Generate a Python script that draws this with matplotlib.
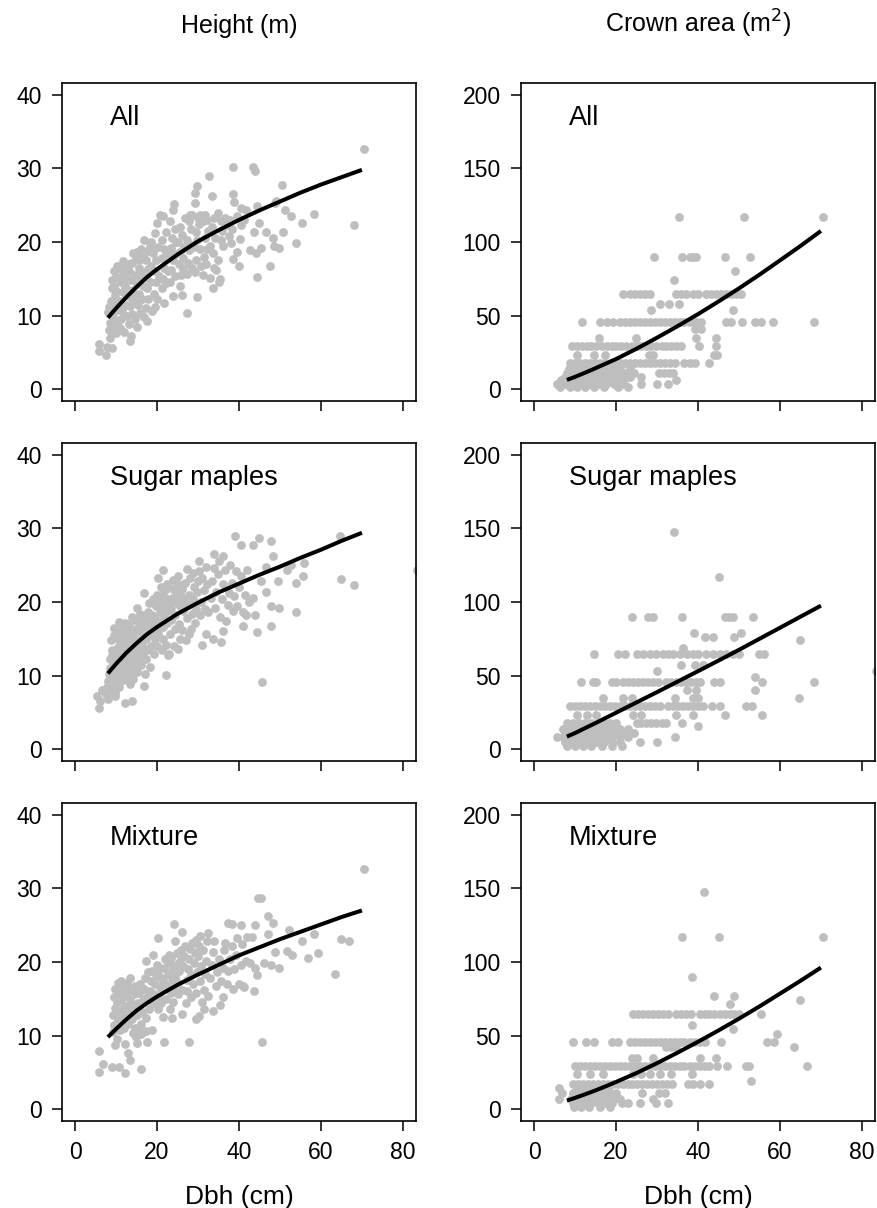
import numpy as np
import matplotlib
matplotlib.use("Agg")
import matplotlib.pyplot as plt

plt.rcParams['font.family'] = ['Liberation Sans', 'DejaVu Sans']

#### data #########################

panel_names = ["All", "Sugar maples", "Mixture"]
col_titles = ["Height (m)", "Crown area (m$^2$)"]
x_ticks = [0, 20, 40, 60, 80]
ht_ticks = [0, 10, 20, 30, 40]
ca_ticks = [0, 50, 100, 150, 200]

# height vs dbh, (dbh, height)
ht_all = [
    (5.8, 6.2), (5.8, 5.2), (7.6, 4.7), (7.9, 5.8), (8.5, 7.0), (8.9, 5.6), (8.2, 8.0), (8.5, 9.0),
    (8.0, 10.5), (8.7, 12.0), (8.9, 13.7), (8.9, 14.9), (8.3, 11.2), (9.3, 8.1), (9.5, 9.5), (9.7, 10.6),
    (9.2, 11.8), (9.8, 12.8), (9.5, 14.0), (10.0, 15.2), (10.2, 16.7), (9.6, 16.0), (10.3, 8.8), (10.4, 11.0),
    (10.1, 13.3), (9.9, 7.6), (11.0, 8.3), (11.2, 9.5), (11.5, 10.6), (11.0, 12.0), (11.6, 13.2), (11.3, 14.5),
    (11.8, 15.5), (11.8, 17.4), (11.2, 16.4), (12.6, 9.9), (12.3, 11.5), (12.5, 12.8), (12.2, 14.0), (12.7, 15.0),
    (12.4, 16.2), (12.8, 17.0), (12.0, 7.8), (13.4, 6.5), (13.6, 7.2), (13.2, 8.8), (13.8, 10.2), (13.5, 11.3),
    (13.3, 12.5), (13.9, 13.5), (13.7, 14.8), (13.2, 16.0), (13.8, 17.2), (14.2, 18.5), (14.5, 9.6), (14.3, 12.0),
    (14.6, 15.5), (14.8, 17.8), (14.4, 13.0), (15.0, 8.5), (15.8, 10.3), (15.3, 11.5), (15.6, 13.0), (15.2, 14.3),
    (15.9, 15.2), (15.5, 16.5), (15.7, 17.6), (15.1, 18.6), (16.2, 19.0), (16.4, 12.3), (16.6, 14.0), (16.2, 16.0),
    (16.9, 20.3), (16.5, 18.0), (16.8, 9.8), (17.5, 9.2), (17.2, 11.0), (17.8, 12.2), (17.6, 13.8), (17.3, 15.2),
    (17.9, 16.4), (17.4, 17.6), (17.8, 18.8), (18.7, 10.6), (18.3, 14.5), (18.6, 16.8), (18.2, 19.5), (18.5, 20.0),
    (19.5, 11.2), (19.2, 13.0), (19.8, 14.6), (19.4, 16.0), (19.7, 17.5), (19.1, 18.5), (19.5, 21.2), (19.9, 22.6),
    (20.3, 19.3), (20.5, 15.4), (20.1, 12.2), (21.8, 11.7), (21.2, 13.8), (21.5, 15.0), (21.8, 16.5), (21.3, 17.8),
    (21.6, 19.0), (21.2, 20.3), (21.5, 23.5), (20.8, 23.7), (22.3, 14.4), (22.5, 18.4), (22.2, 21.3), (22.7, 16.0),
    (24.0, 12.6), (23.2, 14.6), (23.5, 16.2), (23.8, 17.6), (23.3, 19.2), (23.6, 20.6), (23.2, 22.8), (24.1, 25.1),
    (23.9, 24.4), (24.3, 15.4), (24.5, 18.4), (24.4, 21.8), (24.6, 20.0), (26.0, 12.8), (25.5, 14.0), (25.8, 15.5),
    (25.3, 17.0), (25.7, 18.6), (25.2, 20.0), (25.6, 22.1), (26.3, 16.3), (26.5, 19.3), (26.2, 21.0), (26.8, 23.2),
    (26.4, 17.8), (27.4, 10.3), (27.2, 15.7), (27.6, 17.2), (27.8, 18.9), (27.3, 20.3), (28.0, 23.7), (28.3, 21.8),
    (28.6, 16.5), (28.2, 19.6), (27.9, 22.9), (28.5, 23.6), (29.7, 12.5), (29.2, 15.9), (29.5, 17.6), (29.0, 19.3),
    (29.8, 20.3), (29.4, 21.3), (29.2, 25.3), (29.2, 26.6), (29.7, 27.6), (30.5, 23.7), (30.2, 22.5), (30.5, 19.0),
    (30.8, 16.8), (30.0, 23.2), (31.2, 15.5), (31.5, 18.0), (31.8, 20.5), (31.3, 22.8), (32.1, 23.0), (32.5, 21.5),
    (32.3, 19.1), (32.7, 28.9), (32.9, 19.4), (31.6, 23.6), (32.0, 17.0), (33.0, 15.1), (33.7, 13.7), (33.5, 26.2),
    (33.7, 18.5), (34.5, 16.2), (34.9, 17.6), (33.3, 22.0), (34.2, 20.6), (34.9, 23.9), (34.0, 23.2), (33.8, 16.5),
    (35.3, 15.0), (35.7, 20.3), (35.5, 22.8), (36.2, 19.5), (35.9, 21.5), (36.5, 23.3), (35.2, 14.5), (37.8, 23.0),
    (37.5, 20.8), (38.6, 17.7), (38.2, 21.8), (38.6, 26.5), (38.6, 30.2), (38.9, 25.4), (37.2, 22.3), (38.0, 19.8),
    (39.6, 18.7), (40.1, 16.8), (40.2, 20.4), (40.6, 24.6), (39.5, 23.5), (40.4, 22.3), (41.8, 24.4), (41.2, 23.0),
    (42.8, 18.9), (43.5, 30.2), (43.9, 29.6), (43.6, 21.3), (44.1, 18.5), (44.5, 24.9), (44.5, 15.2), (44.9, 22.6),
    (45.4, 19.2), (46.7, 21.3), (47.5, 16.8), (48.2, 20.5), (48.5, 19.5), (48.8, 25.3), (49.1, 25.6), (49.8, 19.2),
    (50.4, 27.7), (50.8, 21.3), (51.3, 24.4), (52.8, 23.5), (54.0, 19.9), (55.4, 22.6), (58.2, 23.8), (68.1, 22.3),
    (70.4, 32.7),
]

ht_sm = [
    (39.0, 29.0), (40.4, 27.7), (43.5, 27.7), (44.9, 28.7), (47.9, 28.3), (64.7, 29.0), (48.3, 26.2), (55.8, 25.3),
    (52.8, 25.0), (46.5, 24.8), (51.6, 24.4), (55.5, 23.6), (65.0, 23.1), (68.1, 22.3), (83.5, 24.4), (54.0, 22.6),
    (49.5, 22.9), (45.3, 22.9), (46.7, 21.3), (43.3, 20.5), (47.9, 19.5), (49.8, 19.2), (53.8, 18.6), (43.9, 18.3),
    (41.8, 18.3), (41.0, 16.8), (47.7, 16.7), (44.5, 15.9), (45.5, 9.2), (35.7, 14.6), (33.7, 15.0), (30.9, 14.1),
    (27.9, 15.6), (22.3, 10.1), (16.8, 8.6), (13.8, 6.5), (12.2, 6.3), (9.7, 7.2), (5.3, 7.2), (5.8, 5.6),
    (6.1, 6.5), (6.5, 8.1), (16.8, 21.2), (20.3, 23.2), (21.5, 24.4), (30.3, 25.6), (33.9, 26.5), (36.1, 26.2),
    (27.2, 24.5), (25.2, 23.5),
    (7.5, 7.5), (7.8, 8.5), (8.0, 9.3), (8.2, 10.2), (8.4, 11.0), (8.6, 12.2), (8.1, 6.8), (8.8, 8.0),
    (8.9, 13.5), (8.7, 14.8), (9.0, 9.5), (9.2, 11.5), (9.3, 10.4), (9.1, 12.8), (9.4, 15.5), (9.5, 16.5),
    (9.6, 8.6), (9.8, 7.6), (10.0, 9.2), (10.1, 10.6), (10.3, 11.8), (10.2, 12.9), (10.5, 13.9), (10.4, 15.0),
    (10.6, 16.2), (10.8, 17.3), (10.7, 8.5), (10.9, 10.0), (11.1, 11.3), (11.2, 12.5), (11.0, 13.6), (11.3, 14.7),
    (11.5, 15.8), (11.4, 16.8), (11.7, 9.4), (11.8, 10.8), (11.9, 12.0), (12.0, 13.2), (12.1, 14.3), (12.3, 15.4),
    (12.5, 16.5), (12.2, 17.2), (12.6, 9.8), (12.7, 11.0), (12.9, 12.4), (12.8, 13.7), (13.0, 14.8), (13.2, 16.0),
    (13.1, 17.0), (13.4, 8.8), (13.5, 10.4), (13.6, 11.8), (13.8, 13.1), (13.7, 14.4), (13.9, 15.6), (14.0, 18.0),
    (14.2, 9.6), (14.4, 11.2), (14.5, 12.6), (14.3, 13.8), (14.6, 15.0), (14.8, 16.4), (14.7, 17.6), (15.0, 19.2),
    (15.2, 10.5), (15.4, 12.0), (15.5, 13.4), (15.3, 14.6), (15.6, 16.0), (15.8, 17.2), (15.9, 18.4), (16.2, 11.5),
    (16.4, 13.0), (16.3, 14.2), (16.6, 15.4), (16.5, 16.8), (16.8, 18.0), (17.0, 10.2), (17.2, 12.2), (17.5, 13.5),
    (17.4, 15.0), (17.7, 16.2), (17.6, 17.4), (17.9, 18.6), (18.0, 19.8), (18.4, 11.2), (18.5, 14.0), (18.6, 15.6),
    (18.8, 17.0), (18.7, 18.2), (19.0, 20.4), (19.2, 13.0), (19.4, 15.0), (19.5, 16.4), (19.6, 17.8), (19.8, 19.4),
    (19.9, 21.0), (20.0, 14.0), (20.3, 15.8), (20.5, 17.2), (20.6, 18.6), (20.4, 19.8), (20.8, 20.8), (21.0, 22.0),
    (21.2, 13.5), (21.4, 15.0), (21.5, 16.6), (21.7, 18.0), (21.8, 19.5), (21.9, 20.6), (22.0, 21.6), (22.3, 14.2),
    (22.4, 17.2), (22.6, 18.8), (22.8, 20.2), (22.5, 22.5), (22.7, 12.8), (23.0, 13.0), (23.2, 15.6), (23.4, 17.6),
    (23.5, 19.2), (23.6, 20.5), (23.8, 21.8), (24.0, 23.0), (24.2, 14.0), (24.4, 16.4), (24.5, 18.3), (24.7, 20.0),
    (24.8, 21.2), (25.0, 22.4), (25.2, 13.6), (25.4, 17.0), (25.6, 19.5), (25.8, 20.8), (25.5, 15.0), (26.0, 21.8),
    (26.2, 16.2), (26.4, 18.8), (26.6, 20.2), (26.8, 22.6), (27.0, 14.8), (27.3, 17.8), (27.5, 19.6), (27.8, 21.0),
    (28.0, 23.2), (28.3, 16.4), (28.5, 18.4), (28.7, 20.4), (28.9, 22.0), (28.8, 24.0), (29.2, 17.2), (29.5, 19.0),
    (29.7, 21.4), (30.0, 22.8), (30.2, 24.2), (30.5, 18.2), (30.8, 20.0), (31.0, 23.2), (31.4, 21.6), (31.6, 19.0),
    (31.9, 24.8), (32.2, 22.4), (32.5, 18.6), (32.0, 15.6), (33.2, 20.6), (33.5, 22.8), (33.8, 24.6), (34.2, 19.2),
    (34.5, 21.4), (34.8, 23.8), (35.0, 25.6), (35.4, 18.0), (35.8, 20.4), (36.2, 22.4), (36.5, 24.4), (36.8, 17.4),
    (37.2, 19.6), (37.5, 21.2), (37.8, 25.0), (36.0, 16.0), (38.2, 22.6), (38.5, 18.8), (38.8, 20.8), (39.2, 24.2),
    (39.6, 19.4), (40.0, 22.0), (40.5, 23.6), (41.0, 18.6), (41.5, 21.0), (42.0, 24.4), (42.5, 20.0),
]

ht_mx = [
    (70.4, 32.7), (44.7, 28.7), (45.3, 28.7), (47.0, 26.3), (48.3, 25.3), (37.2, 25.3), (38.4, 25.1), (40.6, 25.0),
    (43.9, 25.0), (24.1, 25.1), (26.2, 24.1), (52.2, 24.4), (58.3, 23.8), (65.0, 23.1), (66.9, 22.9), (55.4, 22.9),
    (47.0, 23.8), (32.5, 23.9), (20.3, 23.2), (48.9, 21.3), (51.7, 21.5), (53.0, 21.0), (59.3, 21.2), (56.9, 20.5),
    (47.9, 19.6), (49.7, 19.2), (46.2, 19.8), (63.5, 18.4), (42.8, 19.9), (43.9, 19.2), (44.3, 18.3), (41.0, 16.8),
    (43.6, 16.1), (36.0, 15.2), (33.7, 13.4), (31.4, 13.6), (30.3, 12.7), (29.4, 12.2), (21.5, 12.5), (23.6, 12.4),
    (21.8, 9.2), (27.9, 9.2), (45.5, 9.2), (17.2, 20.2), (19.0, 20.9), (5.9, 7.9), (6.7, 6.1), (5.8, 5.1),
    (8.9, 5.7), (10.7, 5.8), (12.2, 4.9), (16.1, 5.5), (13.0, 7.6), (13.4, 6.7), (9.7, 8.7), (12.2, 8.9),
    (15.0, 9.0), (17.5, 9.2), (18.7, 10.8), (15.8, 10.6), (14.1, 10.3),
    (9.2, 10.5), (9.5, 11.5), (9.3, 12.8), (9.7, 13.8), (9.4, 15.2), (9.8, 16.4), (10.2, 9.6), (10.4, 12.0),
    (10.6, 13.2), (10.3, 14.6), (10.7, 15.8), (10.5, 17.2), (11.0, 10.8), (11.2, 12.4), (11.4, 13.6), (11.1, 14.8),
    (11.5, 16.2), (11.3, 17.4), (12.0, 11.0), (12.2, 12.8), (12.4, 14.0), (12.5, 15.4), (12.3, 16.6), (12.7, 17.2),
    (13.0, 11.6), (13.2, 13.4), (13.5, 15.0), (13.6, 16.2), (13.3, 17.8), (14.0, 12.2), (14.2, 14.2), (14.4, 15.6),
    (14.5, 16.8), (14.8, 9.8), (14.6, 11.0), (15.2, 12.8), (15.4, 14.4), (15.6, 15.8), (15.8, 17.0), (16.0, 10.2),
    (16.2, 11.6), (16.4, 13.2), (16.6, 14.8), (16.8, 16.4), (17.0, 17.8), (17.2, 12.4), (17.4, 10.6), (17.6, 15.2),
    (17.8, 18.6), (18.0, 13.6), (18.3, 16.0), (18.5, 17.4), (18.7, 18.8), (19.0, 14.4), (19.2, 15.6), (19.5, 17.0),
    (19.8, 18.2), (20.0, 19.6), (20.2, 13.6), (20.4, 15.2), (20.6, 16.6), (20.8, 18.0), (20.5, 19.0), (21.0, 14.4),
    (21.2, 16.2), (21.5, 17.6), (21.7, 19.2), (22.0, 20.4), (22.2, 15.0), (22.4, 16.8), (22.6, 18.4), (22.8, 19.8),
    (23.0, 21.0), (23.2, 13.6), (23.4, 15.8), (23.6, 17.6), (23.8, 19.0), (23.5, 20.6), (24.0, 14.6), (24.2, 16.4),
    (24.4, 18.0), (24.6, 19.6), (24.8, 21.2), (24.5, 22.8), (25.0, 15.6), (25.2, 17.2), (25.4, 18.8), (25.6, 20.2),
    (25.8, 21.6), (26.0, 13.0), (26.2, 16.2), (26.4, 19.4), (26.6, 20.8), (26.8, 22.2), (27.0, 14.4), (27.2, 16.0),
    (27.4, 17.6), (27.6, 19.0), (27.8, 20.4), (28.0, 21.8), (28.2, 15.2), (28.4, 18.2), (28.6, 22.6), (28.8, 17.0),
    (29.0, 19.8), (29.2, 21.2), (29.4, 23.0), (29.6, 15.8), (29.8, 18.6), (30.0, 20.8), (30.2, 22.2), (30.4, 23.6),
    (30.6, 17.4), (30.8, 19.4), (31.0, 14.6), (31.2, 21.6), (31.5, 16.2), (31.8, 18.4), (32.0, 20.2), (32.2, 22.8),
    (32.5, 15.4), (33.0, 17.8), (33.3, 19.6), (33.6, 21.4), (34.0, 22.8), (34.3, 16.8), (34.6, 18.6), (35.0, 20.4),
    (35.3, 14.2), (35.6, 17.4), (36.0, 19.2), (36.3, 21.6), (36.6, 22.6), (37.0, 17.0), (37.4, 18.8), (37.8, 20.4),
    (38.2, 22.2), (38.5, 16.4), (38.8, 19.0), (39.2, 21.0), (39.6, 23.2), (40.0, 17.0), (40.4, 19.6), (40.8, 22.4),
    (41.2, 16.6), (41.6, 20.2), (42.0, 23.4), (43.2, 23.4),
]

# crown area comes in classes: (area, [dbh of trees in that class])
ca_all_rows = [
    (117, [35.3, 51.3, 70.4]),
    (89.6, [29.3, 36.2, 38.0, 38.8, 39.6, 46.7, 52.8]),
    (80, [49.0]),
    (74, [34.1]),
    (65, [21.7, 23.4, 24.6, 25.8, 27.0, 28.2, 34.7, 35.9, 37.1, 38.8, 40.0, 42.0, 43.2, 44.4, 45.7,
          46.9, 48.1, 49.3, 50.4]),
    (58, [30.7, 32.9, 35.4]),
    (54, [28.5, 48.5]),
    (45.4, [11.6, 16.1, 17.7, 19.3, 20.9, 22.1, 23.4, 24.6, 25.8, 27.0, 28.2, 29.4, 30.7, 31.9, 33.1,
            34.3, 35.5, 36.7, 38.0, 39.6, 40.8, 46.9, 48.1, 50.8, 53.8, 55.4, 58.4, 68.2]),
    (41, [39.2, 40.8]),
    (35, [15.9, 24.8, 39.4, 44.3]),
    (29.5, [9.2, 10.4, 11.6, 12.8, 14.0, 15.2, 16.5, 17.7, 18.9, 20.1, 21.3, 22.5, 23.8, 25.0, 26.2,
            27.4, 28.6, 29.8, 31.1, 32.3, 33.5, 34.7, 35.9, 40.2, 44.4]),
    (23.4, [10.4, 14.6, 17.4, 28.1, 28.9, 44.0, 44.7]),
    (17.7, [8.8, 10.0, 11.2, 12.4, 13.6, 14.8, 16.1, 17.3, 18.5, 19.7, 20.9, 22.1, 23.4, 24.6, 25.8,
            27.0, 28.2, 29.4, 30.7, 31.9, 33.1, 34.3, 36.5, 38.0, 39.2, 42.8]),
    (14, [8.5, 10.0, 11.5, 13.0, 15.0, 17.0, 19.0, 21.0, 23.5]),
    (11, [8.0, 9.5, 11.0, 12.5, 14.0, 16.0, 18.0, 20.0, 22.5, 24.5, 30.5, 31.6, 32.9, 33.9]),
    (8.5, [7.5, 9.0, 10.5, 12.0, 13.5, 15.5, 17.5, 19.5, 21.5, 23.5, 26.0]),
    (6, [6.5, 8.5, 10.0, 11.5, 13.0, 14.5, 16.0, 18.0, 20.0, 22.0, 34.7]),
    (3.5, [5.5, 7.5, 9.0, 10.5, 12.0, 13.5, 15.5, 17.5, 19.5, 21.5, 26.2, 30.0, 32.7]),
    (1.5, [6.3, 8.8, 10.5, 12.5, 14.5, 17.0, 20.5, 23.0]),
]

ca_sm_rows = [
    (147.6, [34.1]),
    (117, [45.1]),
    (89.6, [24.0, 27.8, 29.0, 36.2, 46.5, 47.5, 48.5, 53.4]),
    (79, [39.0, 50.4]),
    (76, [41.6, 43.6, 48.9]),
    (73.9, [64.9]),
    (69, [36.3]),
    (65, [14.6, 20.5, 22.1, 25.0, 26.6, 28.2, 29.8, 31.5, 32.7, 33.9, 35.6, 37.2, 38.8, 40.0, 42.0,
          43.6, 45.3, 46.9, 48.5, 50.1, 55.0, 56.0]),
    (57, [35.9, 39.2, 41.2]),
    (52.8, [30.1, 83.5]),
    (49, [54.0]),
    (45.4, [11.4, 14.4, 15.2, 18.9, 20.0, 21.7, 23.0, 24.2, 25.4, 26.6, 27.8, 29.0, 30.2, 32.3, 33.5,
            34.7, 35.9, 37.1, 38.4, 39.6, 40.6, 44.0, 45.3, 55.6, 68.2]),
    (40, [37.3, 39.6, 53.8]),
    (35, [16.9, 21.7, 23.8, 34.3, 38.8, 40.0, 64.7]),
    (29.5, [8.8, 10.0, 11.2, 12.4, 13.6, 14.8, 16.1, 17.3, 18.5, 19.7, 20.9, 22.1, 23.4, 24.6, 25.8,
            27.0, 28.2, 29.4, 30.7, 32.7, 33.9, 35.1, 36.3, 37.6, 38.8, 40.0, 41.2, 43.4, 45.3, 51.7, 53.2]),
    (23.4, [10.4, 12.8, 15.2, 24.2, 26.2, 34.7, 38.8, 46.6, 55.6]),
    (17.7, [8.0, 9.5, 11.0, 12.5, 14.0, 15.5, 17.0, 18.5, 20.0, 25.0, 26.2, 27.4, 28.6, 29.8, 31.1,
            32.3, 36.2]),
    (16, [40.0]),
    (14, [7.0, 8.5, 10.0, 11.5, 13.0, 14.5, 16.0, 17.5, 19.0, 21.0, 23.0]),
    (11, [7.5, 9.0, 10.5, 12.0, 13.5, 15.0, 16.5, 18.0, 19.5, 21.0, 22.5, 24.5]),
    (8, [5.5, 7.0, 8.5, 10.0, 11.5, 13.0, 14.5, 16.0, 17.5, 19.0, 21.0, 23.0, 34.5]),
    (5, [7.5, 9.0, 10.5, 12.0, 13.5, 15.0, 17.0, 19.0, 21.0, 25.8, 30.1]),
    (2, [8.0, 10.0, 12.0, 14.0, 16.5, 19.0, 21.5]),
]

ca_mx_rows = [
    (147.6, [41.4]),
    (117, [36.2, 45.1, 70.4]),
    (89.6, [38.5]),
    (77, [44.0, 48.9]),
    (73.9, [64.9]),
    (71.7, [47.7]),
    (65, [24.2, 25.4, 26.6, 27.8, 29.0, 30.3, 31.5, 32.7, 34.7, 35.9, 37.1, 38.4, 40.4, 41.6, 42.8,
          44.0, 45.3, 46.5, 47.7, 48.9, 50.1, 55.4]),
    (57, [38.5]),
    (54.4, [48.5]),
    (51.2, [59.4]),
    (45.4, [9.6, 12.7, 14.7, 18.9, 20.5, 23.4, 24.6, 25.8, 27.0, 28.2, 29.4, 30.7, 31.9, 33.1, 34.3,
            35.5, 36.7, 38.0, 39.2, 40.4, 41.6, 45.7, 56.8, 58.6]),
    (42, [32.3, 33.5, 34.7, 63.5]),
    (35, [23.8, 25.0, 29.0, 40.6, 44.3]),
    (29.5, [10.0, 11.2, 12.4, 13.6, 14.8, 16.1, 17.3, 18.5, 19.7, 20.9, 22.1, 23.4, 24.6, 25.8, 27.0,
            28.2, 29.4, 30.7, 31.9, 33.1, 34.3, 35.5, 36.7, 38.0, 39.2, 40.4, 41.6, 42.8, 44.6, 47.0,
            51.7, 52.4, 66.7]),
    (23.6, [10.4, 13.6, 16.9, 24.2, 26.2, 28.2, 30.7, 33.3, 38.6]),
    (19, [53.0]),
    (17.2, [9.6, 10.8, 12.0, 13.2, 14.4, 15.6, 16.8, 18.0, 19.2, 20.4, 21.6, 22.8, 24.0, 25.2, 26.4,
            27.6, 28.8, 30.0, 31.2, 32.4, 33.6, 37.6, 38.8, 40.6, 42.8]),
    (14.3, [6.1, 10.5, 12.0, 13.5, 15.0, 16.5, 18.0]),
    (10.9, [6.9, 9.5, 11.0, 12.5, 14.0, 15.5, 17.0, 18.5, 20.0, 26.4, 30.5, 31.9]),
    (7, [6.1, 9.0, 10.5, 12.0, 13.5, 15.0, 16.5, 18.0, 19.5, 21.0, 29.0]),
    (4, [9.5, 11.0, 12.5, 14.0, 15.5, 17.0, 19.0, 21.5, 23.0, 25.8, 29.8, 32.7]),
    (1.5, [9.8, 11.5, 13.5, 16.0, 18.5]),
]

# fitted curves, read at a set of dbh values
curve_dbh = [8, 10, 12.5, 15, 17.5, 20, 25, 30, 35, 40, 45, 50, 55, 60, 65, 70]
ht_all_fit = [9.7, 11.0, 12.5, 13.9, 15.2, 16.3, 18.3, 20.1, 21.6, 23.0, 24.3, 25.5, 26.7, 27.8, 28.8, 29.8]
ht_sm_fit = [10.3, 11.6, 13.1, 14.4, 15.6, 16.6, 18.4, 19.9, 21.3, 22.5, 23.7, 24.8, 26.0, 27.1, 28.3, 29.4]
ht_mx_fit = [9.8, 10.9, 12.2, 13.4, 14.4, 15.3, 16.9, 18.3, 19.6, 20.9, 22.0, 23.1, 24.1, 25.1, 26.1, 27.0]
ca_all_fit = [6.3, 8.4, 11.3, 14.3, 17.4, 20.5, 27.5, 35.0, 42.8, 51.0, 59.6, 68.5, 77.8, 87.5, 97.3, 107.5]
ca_sm_fit = [8.6, 11.0, 14.4, 17.8, 21.3, 24.8, 31.8, 38.8, 45.9, 53.0, 60.2, 67.5, 75.0, 82.5, 90.0, 97.5]
ca_mx_fit = [5.9, 7.7, 10.2, 12.8, 15.6, 18.5, 24.6, 31.3, 38.4, 45.8, 53.5, 61.5, 69.8, 78.5, 87.2, 96.2]


def rows_to_xy(rows):
    xs, ys = [], []
    for area, dbhs in rows:
        xs += dbhs
        ys += [area] * len(dbhs)
    return xs, ys


height_sets = [ht_all, ht_sm, ht_mx]
height_fits = [ht_all_fit, ht_sm_fit, ht_mx_fit]
crown_sets = [ca_all_rows, ca_sm_rows, ca_mx_rows]
crown_fits = [ca_all_fit, ca_sm_fit, ca_mx_fit]

#### figure #####

W, H = 877, 1208
fig = plt.figure(figsize=(W / 100, H / 100), dpi=100)

col_left = [62, 521]
ax_w = 354
row_top = [83, 443, 803]
ax_h = 318

dot_col = '#bebebe'

for r in range(3):
    for c in range(2):
        rect = [col_left[c] / W, 1 - (row_top[r] + ax_h) / H, ax_w / W, ax_h / H]
        ax = fig.add_axes(rect)
        if c == 0:
            pts = np.array(height_sets[r])
            ax.scatter(pts[:, 0], pts[:, 1], s=40, color=dot_col, linewidths=0, zorder=1)
            ax.plot(curve_dbh, height_fits[r], color='black', lw=2.9, zorder=2,
                    solid_capstyle='butt')
            ax.set_ylim(-1.6, 41.6)
            ax.set_yticks(ht_ticks)
        else:
            xs, ys = rows_to_xy(crown_sets[r])
            ax.scatter(xs, ys, s=40, color=dot_col, linewidths=0, zorder=1)
            ax.plot(curve_dbh, crown_fits[r], color='black', lw=2.9, zorder=2,
                    solid_capstyle='butt')
            ax.set_ylim(-8, 208)
            ax.set_yticks(ca_ticks)
        ax.set_xlim(-3.2, 83.2)
        ax.set_xticks(x_ticks)
        ax.tick_params(direction='out', length=7.5, width=1.1, labelsize=16.5, pad=7)
        if r < 2:
            ax.set_xticklabels([])
        for sp in ax.spines.values():
            sp.set_linewidth(1.2)
        ax.text(0.1356, 0.868, panel_names[r], transform=ax.transAxes,
                fontsize=19.5, ha='left', va='baseline')
        if r == 0:
            fig.text(rect[0] + rect[2] / 2, 1 - 33 / H, col_titles[c],
                     fontsize=18, ha='center', va='baseline')
        if r == 2:
            fig.text(rect[0] + rect[2] / 2, 4 / H, "Dbh (cm)",
                     fontsize=19, ha='center', va='baseline')

fig.savefig("out.png", dpi=100)
